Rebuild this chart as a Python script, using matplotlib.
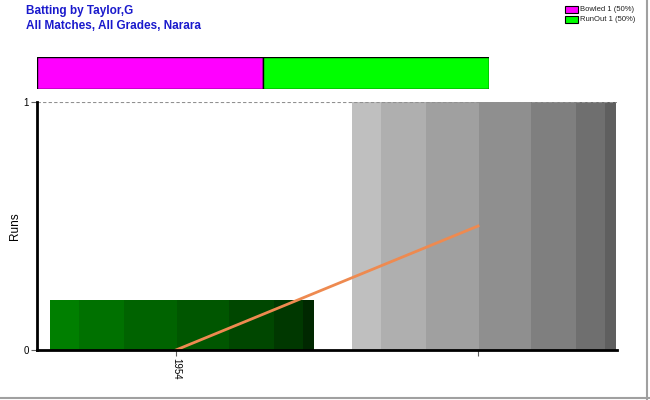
import matplotlib
matplotlib.use("Agg")
import matplotlib.pyplot as plt
from matplotlib.patches import Rectangle
from matplotlib.lines import Line2D

plt.rcParams['font.family'] = ['Liberation Sans', 'DejaVu Sans']

# ---- data ----
years = ['1954', '']
bar_values = [0.2, 1.0]          # shaded column heights
runs = [0, 0.5]                  # line series
dismissals = ['Bowled', 'RunOut']
dismissal_counts = [1, 1]
dismissal_colors = ['#ff00ff', '#00ff00']
title_lines = ['Batting by Taylor,G', 'All Matches, All Grades, Narara']

# ---- style ----
green_shades = ['#007f00', '#007100', '#006300', '#005600', '#004700', '#003800', '#002800']
gray_shades = ['#bfbfbf', '#afafaf', '#a0a0a0', '#8f8f8f', '#7f7f7f', '#6f6f6f', '#5f5f5f']
seg_fracs = [29, 45, 53, 53, 45, 29, 11]

fig = plt.figure(figsize=(6.5, 4.0), dpi=100)
W, H = 650, 400

# main axes
ax = fig.add_axes([37 / W, 1 - 350 / H, 580 / W, 248 / H])
x = list(range(len(years)))
bw = 0.875
off = 0.02
for i, v in enumerate(bar_values):
    shades = green_shades if i == 0 else gray_shades
    left = x[i] + off - bw / 2
    tot = sum(seg_fracs)
    cum = 0
    for f, c in zip(seg_fracs, shades):
        ax.bar(left + bw * cum / tot, v, width=bw * f / tot, align='edge',
               color=c, edgecolor='none', zorder=2)
        cum += f

ax.plot(x, runs, color='#ee8a50', linewidth=2, zorder=4)

ax.set_xlim(-0.46, 1.46)
ax.set_ylim(0, 1)
ax.set_xticks(x)
ax.set_xticklabels(years, rotation=270, fontsize=7)
ax.set_yticks([0, 1])
ax.set_yticklabels(['0', '1'], fontsize=7)
ax.tick_params(axis='both', length=4, width=0.8, color='#606060', pad=2)
for y in [0, 1]:
    ax.axhline(y, color='#909090', linestyle=(0, (3, 2)), linewidth=0.8, zorder=3)
for s in ['top', 'right']:
    ax.spines[s].set_visible(False)
for s in ['left', 'bottom']:
    ax.spines[s].set_linewidth(2)
    ax.spines[s].set_color('black')
    ax.spines[s].set_zorder(5)
ax.set_ylabel('Runs', fontsize=8.5, labelpad=2)

# top dismissal bar
axb = fig.add_axes([37 / W, 1 - 89 / H, 452 / W, 32 / H])
left = 0
for lab, cnt, col in zip(dismissals, dismissal_counts, dismissal_colors):
    axb.barh(0, cnt, left=left, height=1, color=col, edgecolor='black', linewidth=1.0)
    left += cnt
axb.set_xlim(0, sum(dismissal_counts))
axb.set_ylim(-0.5, 0.5)
axb.axis('off')

# legend
total = sum(dismissal_counts)
for k, (lab, cnt, col) in enumerate(zip(dismissals, dismissal_counts, dismissal_colors)):
    yc = 9.5 + k * 10
    fig.patches.append(Rectangle((565 / W, 1 - (yc + 3) / H), 13 / W, 6 / H,
                                 transform=fig.transFigure, facecolor=col,
                                 edgecolor='black', linewidth=0.8))
    fig.text(580 / W, 1 - yc / H, f'{lab} {cnt} ({cnt * 100 // total}%)',
             fontsize=5.5, va='center', ha='left', color='#202020')

# titles
fig.text(26 / W, 1 - 11 / H, title_lines[0], fontsize=8.5, fontweight='bold',
         color='#1a1acc', va='center', ha='left')
fig.text(26 / W, 1 - 26 / H, title_lines[1], fontsize=8.5, fontweight='bold',
         color='#1a1acc', va='center', ha='left')

# outer border (right & bottom)
fig.add_artist(Line2D([647 / W, 647 / W], [0, 1], transform=fig.transFigure,
                      color='#a0a0a0', linewidth=1.5))
fig.add_artist(Line2D([0, 1], [2 / H, 2 / H], transform=fig.transFigure,
                      color='#a0a0a0', linewidth=1.5))

fig.savefig('out.png', dpi=100)
